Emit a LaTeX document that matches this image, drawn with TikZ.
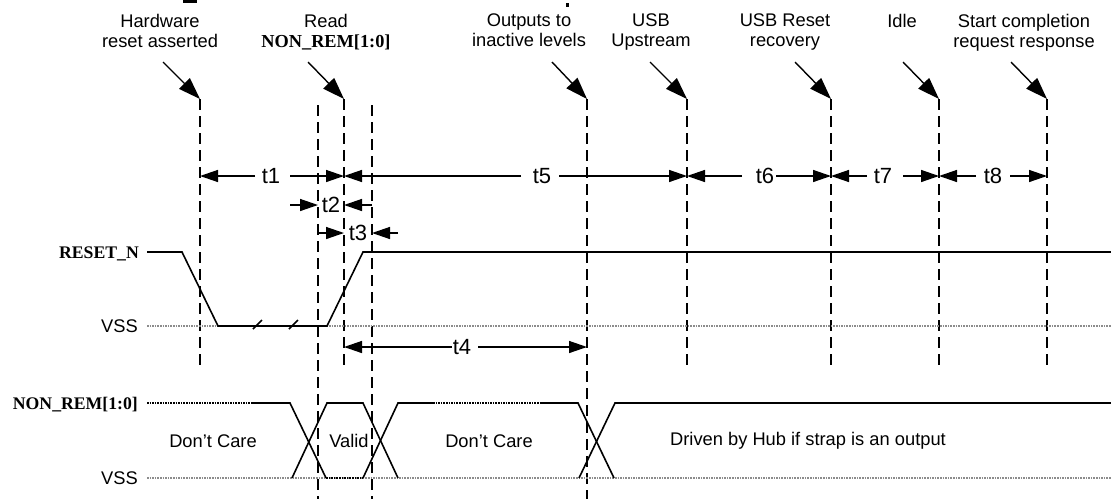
\documentclass[tikz,border=0pt]{standalone}
\usepackage{fontspec}
\setmainfont{Liberation Sans}
\newfontfamily\tmsfont{Liberation Serif}
\usetikzlibrary{arrows.meta}
\begin{document}
\begin{tikzpicture}[x=1pt,y=-1pt,
  lbl/.style={font=\fontsize{18.3}{20}\selectfont, align=center, inner sep=0pt, anchor=north},
  sigtxt/.style={font=\fontsize{18.3}{20}\selectfont, inner sep=0pt},
  bl/.style={font=\fontsize{17.7}{20}\selectfont\tmsfont\bfseries, inner sep=0pt},
  tl/.style={font=\fontsize{22}{24}\selectfont, inner sep=0pt},
  sig/.style={line width=1.6pt, line join=miter},
  guide/.style={line width=2.7pt, dash pattern=on 11pt off 6pt},
  vss/.style={line width=1.8pt, color=black!45, dash pattern=on 1.6pt off 1pt},
  dc/.style={line width=1.8pt, dash pattern=on 1.6pt off 1pt},
  callout/.style={line width=1.4pt, -{Triangle[length=22pt,width=15pt]}},
  half/.style={line width=1.4pt, -{Triangle[length=18pt,width=12pt]}}
]
\useasboundingbox (0,0) rectangle (1111,499);

% small fragments at the top edge
\fill (183,0) rectangle (197,2.6);
\fill (566,3) rectangle (568.5,6.5);

% ---- labels ----
\node[lbl] (hw) at (160,14) {Hardware\\reset asserted};
\node[lbl] (rd) at (326,14) {Read\\{\tmsfont\bfseries NON\_REM[1:0]}};
\node[lbl] (out) at (529,14) {Outputs to\\inactive levels};
\node[lbl] (usb) at (651,14) {USB\\Upstream};
\node[lbl] (rst) at (785,14) {USB Reset\\recovery};
\node[lbl] (idle) at (902,14) {Idle\\\phantom{x}};
\node[lbl] (start) at (1024,14) {Start completion\\request response};

% ---- guide lines ----
\coordinate (g1t) at (200,99);  \coordinate (g1b) at (200,367);
\coordinate (g2t) at (318,105); \coordinate (g2b) at (318,499);
\coordinate (g3t) at (344,99);  \coordinate (g3b) at (344,367);
\coordinate (g4t) at (372,105); \coordinate (g4b) at (372,499);
\coordinate (g5t) at (587,99);  \coordinate (g5b) at (587,499);
\coordinate (g6t) at (687,99);  \coordinate (g6b) at (687,367);
\coordinate (g7t) at (831,99);  \coordinate (g7b) at (831,367);
\coordinate (g8t) at (939,99);  \coordinate (g8b) at (939,367);
\coordinate (g9t) at (1047,99); \coordinate (g9b) at (1047,367);
\foreach \g in {1,...,9} {\draw[guide] (g\g t) -- (g\g b);}

% ---- callout arrows ----
\coordinate (c1) at (163,62);  \draw[callout] (c1) -- (g1t);
\coordinate (c3) at (308,62);  \draw[callout] (c3) -- (g3t);
\coordinate (c5) at (552,62);  \draw[callout] (c5) -- (g5t);
\coordinate (c6) at (650,62);  \draw[callout] (c6) -- (g6t);
\coordinate (c7) at (795,62);  \draw[callout] (c7) -- (g7t);
\coordinate (c8) at (903,62);  \draw[callout] (c8) -- (g8t);
\coordinate (c9) at (1011,62); \draw[callout] (c9) -- (g9t);

% ---- timing arrows ----
\node[tl] (t1) at (271,176) {t1};
\draw[half] (255,176) coordinate (t1l) -- (g1t |- t1l);
\draw[half] (290,176) coordinate (t1r) -- (g3t |- t1r);
\node[tl] (t5) at (542,176) {t5};
\draw[half] (521,176) coordinate (t5l) -- (g3t |- t5l);
\draw[half] (559,176) coordinate (t5r) -- (g6t |- t5r);
\node[tl] (t6) at (765,176) {t6};
\draw[half] (742,176) coordinate (t6l) -- (g6t |- t6l);
\draw[half] (776,176) coordinate (t6r) -- (g7t |- t6r);
\node[tl] (t7) at (883,176) {t7};
\draw[half] (867,176) coordinate (t7l) -- (g7t |- t7l);
\draw[half] (903,176) coordinate (t7r) -- (g8t |- t7r);
\node[tl] (t8) at (993,176) {t8};
\draw[half] (976,176) coordinate (t8l) -- (g8t |- t8l);
\draw[half] (1010,176) coordinate (t8r) -- (g9t |- t8r);
\node[tl] (t2) at (331,205) {t2};
\draw[half] (290,205) coordinate (t2l) -- (g2t |- t2l);
\draw[half] (g4t |- t2l) -- (g3t |- t2l);
\node[tl] (t3) at (358,233) {t3};
\draw[half] (g2t |- t3) -- (g3t |- t3);
\draw[half] (398,233) coordinate (t3r) -- (g4t |- t3r);
\node[tl] (t4) at (462,347) {t4};
\draw[half] (452,347) coordinate (t4l) -- (g3t |- t4l);
\draw[half] (478,347) coordinate (t4r) -- (g5t |- t4r);

% ---- RESET_N ----
\node[bl, anchor=base east] (rn) at (139,258) {RESET\_N};
\node[sigtxt, anchor=base east] (vss1) at (138,332.4) {VSS};
\draw[vss] (147,326) -- (1111,326);
\draw[sig] (147,252) -- (182,252) -- (218,326) -- (327,326) -- (363,252) -- (1111,252);
\draw[sig] (253,329) -- (262,320);
\draw[sig] (289,329) -- (298,320);

% ---- NON_REM[1:0] ----
\node[bl, anchor=base east] (nr) at (138,409) {NON\_REM[1:0]};
\node[sigtxt, anchor=base east] (vss2) at (138,484.4) {VSS};
\draw[vss] (147,478) -- (1111,478);
\draw[dc] (147,403) -- (253,403);
\draw[sig] (253,403) -- (290,403) -- (326,478);
\draw[dc] (326,478) -- (363,478);
\draw[sig] (363,478) -- (398,403) -- (433,403);
\draw[sig] (292,478) -- (327,403) -- (363,403) -- (398,478);
\draw[dc] (433,403) -- (540,403);
\draw[sig] (540,403) -- (578,403) -- (614,478);
\draw[sig] (579,478) -- (615,403) -- (1111,403);

\node[sigtxt] (dc1) at (213,441) {Don’t Care};
\node[sigtxt] (val) at (349,441) {Valid};
\node[sigtxt] (dc2) at (489,441) {Don’t Care};
\node[sigtxt] (drv) at (808,441) {Driven by Hub if strap is an output};
\end{tikzpicture}
\end{document}
